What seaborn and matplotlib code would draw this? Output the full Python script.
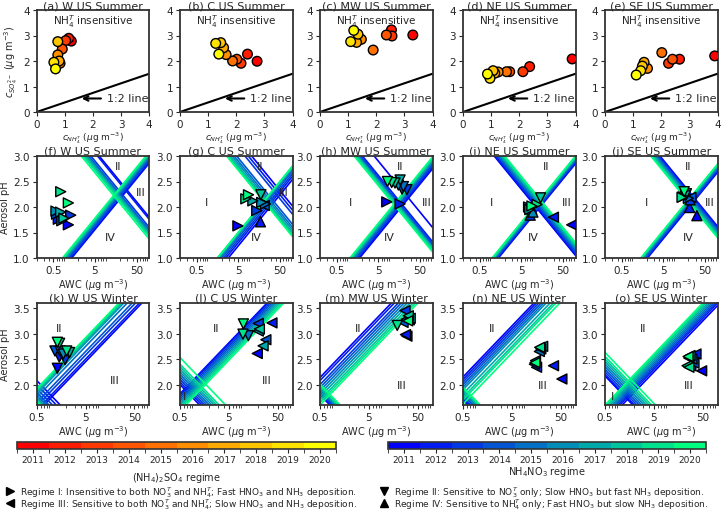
import numpy as np
import pandas as pd
import matplotlib as mpl
import matplotlib.pyplot as plt
from matplotlib.lines import Line2D
from matplotlib.ticker import FixedLocator, LogLocator, NullFormatter
import seaborn as sns

sns.set_style('ticks')
plt.rcParams['font.family'] = ['DejaVu Sans']
plt.rcParams['axes.edgecolor'] = '#333333'
plt.rcParams['axes.linewidth'] = 1.3

years = [2011, 2012, 2013, 2014, 2015, 2016, 2017, 2018, 2019, 2020]
regions = ['W', 'C', 'MW', 'NE', 'SE']
ratio_12 = 0.375

# summer: total ammonium vs sulfate (ug m-3)
nh4_W = [1.23, 1.14, 1.03, 0.91, 0.83, 0.75, 0.80, 0.75, 0.61, 0.67]
so4_W = [2.78, 2.89, 2.80, 2.47, 1.91, 2.24, 2.00, 2.76, 1.95, 1.69]
nh4_C = [2.74, 2.40, 2.17, 2.02, 1.87, 1.64, 1.55, 1.45, 1.27, 1.38]
so4_C = [1.99, 2.27, 1.91, 2.07, 2.00, 2.25, 2.52, 2.72, 2.69, 2.27]
nh4_MW = [3.30, 2.54, 2.56, 2.36, 1.89, 1.47, 1.30, 1.35, 1.09, 1.20]
so4_MW = [3.02, 3.22, 2.98, 3.02, 2.43, 2.85, 2.73, 3.05, 2.76, 3.20]
nh4_NE = [3.88, 2.37, 2.13, 1.66, 1.55, 1.25, 1.13, 1.07, 0.96, 0.87]
so4_NE = [2.08, 1.78, 1.58, 1.58, 1.58, 1.57, 1.52, 1.62, 1.32, 1.49]
nh4_SE = [3.90, 2.65, 2.26, 2.40, 2.02, 1.51, 1.39, 1.33, 1.27, 1.11]
so4_SE = [2.20, 2.07, 1.91, 2.07, 2.33, 1.71, 1.95, 1.80, 1.62, 1.45]

# summer: AWC (ug m-3), pH, regime, NH3 boundary (rising) and HNO3 boundary (falling) intercepts
awc_sW = [1.15, 0.66, 1.31, 0.60, 0.80, 0.58, 0.75, 0.90, 0.755, 1.15]
ph_sW = [1.65, 1.76, 1.84, 1.86, 1.73, 1.92, 1.90, 1.78, 2.30, 2.08]
reg_sW = ['I', 'I', 'I', 'I', 'I', 'I', 'I', 'I', 'I', 'I']
up_sW = [0.86, 0.88, 0.92, 0.95, 0.98, 1.00, 1.02, 1.04, 1.06, 1.08]
dn_sW = [3.80, 3.76, 3.60, 3.55, 3.52, 3.50, 3.48, 3.45, 3.42, 3.37]

awc_sC = [4.9, 17.0, 13.9, 21.0, 22.5, 18.2, 11.2, 17.4, 7.6, 8.8]
ph_sC = [1.63, 1.71, 1.93, 2.03, 2.06, 2.09, 2.12, 2.24, 2.16, 2.24]
reg_sC = ['I', 'IV', 'I', 'III', 'I', 'I', 'I', 'II', 'I', 'I']
up_sC = [0.54, 0.60, 0.65, 0.70, 0.74, 0.76, 0.78, 0.79, 0.80, 0.80]
dn_sC = [4.02, 3.94, 3.86, 3.66, 3.60, 3.55, 3.50, 3.47, 3.44, 3.42]

awc_sMW = [8.0, 16.7, 24.3, 18.6, 20.0, 15.2, 16.7, 12.6, 10.5, 8.3]
ph_sMW = [2.10, 2.06, 2.34, 2.35, 2.40, 2.43, 2.53, 2.47, 2.48, 2.50]
reg_sMW = ['I', 'I', 'II', 'II', 'II', 'II', 'II', 'II', 'II', 'II']
up_sMW = [0.75, 0.78, 0.82, 0.85, 0.88, 0.90, 0.92, 0.94, 0.96, 0.98]
dn_sMW = [3.60, 3.32, 3.28, 3.25, 3.22, 3.20, 3.20, 3.18, 3.15, 3.12]

awc_sNE = [81.0, 29.5, 8.2, 8.9, 7.5, 9.5, 8.0, 14.5, 12.0, 9.0]
ph_sNE = [1.65, 1.80, 1.84, 1.96, 2.00, 1.90, 1.95, 2.18, 2.05, 2.02]
reg_sNE = ['III', 'III', 'IV', 'IV', 'I', 'IV', 'I', 'II', 'I', 'I']
up_sNE = [0.85, 0.87, 0.89, 0.91, 0.93, 0.95, 0.96, 0.97, 0.99, 1.00]
dn_sNE = [3.05, 3.08, 3.11, 3.14, 3.17, 3.20, 3.22, 3.25, 3.27, 3.30]

awc_sSE = [32.0, 21.4, 22.0, 23.0, 20.0, 18.0, 17.0, 15.0, 14.1, 15.9]
ph_sSE = [1.83, 1.99, 2.14, 2.19, 2.17, 2.26, 2.22, 2.20, 2.19, 2.30]
reg_sSE = ['IV', 'IV', 'IV', 'III', 'I', 'II', 'II', 'I', 'I', 'II']
up_sSE = [0.68, 0.70, 0.72, 0.75, 0.77, 0.79, 0.80, 0.82, 0.83, 0.84]
dn_sSE = [3.62, 3.60, 3.57, 3.55, 3.52, 3.50, 3.47, 3.45, 3.42, 3.40]

# winter
awc_wW = [1.32, 1.45, 1.90, 1.18, 1.50, 1.75, 2.35, 1.47, 2.05, 1.32]
ph_wW = [2.32, 2.54, 2.49, 2.66, 2.66, 2.60, 2.63, 2.81, 2.66, 2.83]
reg_wW = ['II', 'II', 'II', 'II', 'II', 'II', 'II', 'II', 'II', 'II']
up_wW = [1.75, 1.80, 1.88, 1.95, 2.05, 2.12, 2.15, 2.18, 2.20, 2.22]
dn_wW = [1.78, 1.70, 1.62, 1.55, 1.50, 1.45, 1.42, 1.40, 1.38, 1.35]

awc_wC = [19.0, 38.0, 20.0, 28.5, 12.5, 20.0, 25.0, 21.0, 9.7, 9.9]
ph_wC = [2.61, 3.21, 3.20, 2.88, 2.96, 3.05, 2.76, 3.09, 2.99, 3.19]
reg_wC = ['III', 'III', 'III', 'III', 'II', 'III', 'III', 'III', 'II', 'II']
up_wC = [2.12, 2.10, 2.06, 2.02, 1.98, 1.94, 1.90, 1.86, 1.82, 1.78]
dn_wC = [1.70, 1.75, 1.80, 1.85, 1.90, 1.95, 2.00, 2.05, 2.10, 2.23]

awc_wMW = [30.0, 28.0, 27.4, 25.0, 29.0, 33.5, 35.0, 32.0, 19.0, 31.0]
ph_wMW = [2.95, 2.98, 3.45, 3.22, 3.28, 3.27, 3.30, 3.35, 3.16, 3.25]
reg_wMW = ['III', 'III', 'III', 'III', 'III', 'III', 'III', 'III', 'II', 'III']
up_wMW = [2.44, 2.38, 2.30, 2.24, 2.18, 2.12, 2.06, 2.00, 1.95, 1.90]
dn_wMW = [1.50, 1.52, 1.55, 1.57, 1.60, 1.62, 1.64, 1.66, 1.68, 1.71]

awc_wNE = [52.6, 35.5, 16.0, 14.4, 18.2, 15.2, 21.3, 19.5, 18.5, 14.8]
ph_wNE = [2.11, 2.37, 2.34, 2.40, 2.65, 2.47, 2.75, 2.70, 2.73, 2.43]
reg_wNE = ['III', 'III', 'III', 'III', 'III', 'III', 'III', 'III', 'III', 'III']
up_wNE = [2.45, 2.40, 2.35, 2.30, 2.25, 2.20, 2.12, 2.05, 2.00, 1.92]
dn_wNE = [1.40, 1.43, 1.46, 1.50, 1.53, 1.56, 1.59, 1.61, 1.63, 1.65]

awc_wSE = [47.4, 36.3, 28.5, 33.0, 30.0, 26.0, 27.4, 23.8, 26.0, 25.0]
ph_wSE = [2.27, 2.60, 2.37, 2.42, 2.50, 2.52, 2.57, 2.37, 2.34, 2.55]
reg_wSE = ['III', 'III', 'III', 'III', 'III', 'III', 'III', 'III', 'III', 'III']
up_wSE = [1.55, 1.60, 1.64, 1.68, 1.72, 1.76, 1.80, 1.84, 1.87, 1.90]
dn_wSE = [1.87, 1.90, 1.95, 2.00, 2.05, 2.10, 2.15, 2.20, 2.25, 2.33]

top_data = {'W': (nh4_W, so4_W), 'C': (nh4_C, so4_C), 'MW': (nh4_MW, so4_MW),
            'NE': (nh4_NE, so4_NE), 'SE': (nh4_SE, so4_SE)}
summer = {'W': (awc_sW, ph_sW, reg_sW, up_sW, dn_sW), 'C': (awc_sC, ph_sC, reg_sC, up_sC, dn_sC),
          'MW': (awc_sMW, ph_sMW, reg_sMW, up_sMW, dn_sMW), 'NE': (awc_sNE, ph_sNE, reg_sNE, up_sNE, dn_sNE),
          'SE': (awc_sSE, ph_sSE, reg_sSE, up_sSE, dn_sSE)}
winter = {'W': (awc_wW, ph_wW, reg_wW, up_wW, dn_wW), 'C': (awc_wC, ph_wC, reg_wC, up_wC, dn_wC),
          'MW': (awc_wMW, ph_wMW, reg_wMW, up_wMW, dn_wMW), 'NE': (awc_wNE, ph_wNE, reg_wNE, up_wNE, dn_wNE),
          'SE': (awc_wSE, ph_wSE, reg_wSE, up_wSE, dn_wSE)}

# where the regime names sit in each panel
lab_summer = {
    'W': [('II', 18, 2.81), ('III', 62, 2.29), ('IV', 11.6, 1.41)],
    'C': [('I', 0.88, 2.09), ('II', 16.5, 2.81), ('III', 63, 2.3), ('IV', 13.8, 1.41)],
    'MW': [('I', 1.05, 2.1), ('II', 16.7, 2.81), ('III', 73, 2.1), ('IV', 9.3, 1.41)],
    'NE': [('I', 0.98, 2.1), ('II', 20, 2.8), ('III', 60, 2.1), ('IV', 9.8, 1.41)],
    'SE': [('I', 2.0, 2.1), ('II', 20, 2.8), ('III', 66, 2.1), ('IV', 20, 1.41)],
}
lab_winter = {
    'W': [('II', 1.45, 3.1), ('III', 20, 2.09)],
    'C': [('I', 0.63, 1.78), ('II', 2.8, 3.1), ('III', 30, 2.09)],
    'MW': [('II', 3.0, 3.1), ('III', 23, 1.99)],
    'NE': [('II', 2.0, 3.1), ('III', 21.5, 1.99)],
    'SE': [('I', 0.72, 1.78), ('II', 3.0, 3.1), ('III', 26, 1.99)],
}

bounds = np.arange(2010.5, 2021.0, 1.0)
norm = mpl.colors.BoundaryNorm(bounds, 10)
cmap_s = mpl.colormaps['autumn'].resampled(10)
cmap_w = mpl.colormaps['winter'].resampled(10)
pal_s = {y: cmap_s(norm(y)) for y in years}
pal_w = {y: cmap_w(norm(y)) for y in years}
markers = {'I': '>', 'II': 'v', 'III': '<', 'IV': '^'}

fig = plt.figure(figsize=(7.22, 5.10), dpi=100)
FW, FH = 722, 510
lefts = [36.7, 180, 320, 463, 605]
tops = [11, 157, 304]
aw, ah = 112.5, 102


def add_ax(col, row):
    return fig.add_axes([lefts[col] / FW, 1 - (tops[row] + ah) / FH, aw / FW, ah / FH])


letters = 'abcdefghijklmno'
TFS = 8

# row 1
for i, reg in enumerate(regions):
    ax = add_ax(i, 0)
    x, y = top_data[reg]
    df = pd.DataFrame({'x': x, 'y': y, 'year': years})
    ax.axline((0, 0), slope=ratio_12, color='k', lw=1.5, zorder=1)
    sns.scatterplot(data=df, x='x', y='y', hue='year', palette=pal_s, s=48,
                    edgecolor='k', linewidth=1, legend=False, ax=ax, zorder=3)
    ax.annotate('1:2 line', xy=(1.5, 0.53), xytext=(2.5, 0.53), va='center', ha='left',
                fontsize=8, arrowprops=dict(arrowstyle='->', color='k', lw=1.5))
    ax.text(2, 3.6, 'NH$_4^T$ insensitive', ha='center', va='center', fontsize=7.5)
    ax.set_xlim(0, 4)
    ax.set_ylim(0, 4)
    ax.set_xticks([0, 1, 2, 3, 4])
    ax.set_yticks([0, 1, 2, 3, 4])
    ax.tick_params(labelsize=7.5, length=3, pad=2)
    ax.set_title(f'({letters[i]}) {reg} US Summer', fontsize=TFS, pad=1)
    ax.set_xlabel(r'$c_{NH_4^T}$ ($\mu$g m$^{-3}$)', fontsize=6.5, labelpad=0)
    if i == 0:
        ax.set_ylabel(r'$c_{SO_4^{2-}}$ ($\mu$g m$^{-3}$)', fontsize=7, labelpad=2)
    else:
        ax.set_ylabel('')


def ph_panel(ax, vals, labs, xlim, ylim, yticks):
    awc, ph, rg, up, dn = vals
    for k, yr in enumerate(years):
        c = pal_w[yr]
        ax.axline((1, up[k]), (10, up[k] + 1), color=c, lw=1.2, zorder=1)
        ax.axline((1, dn[k]), (10, dn[k] - 1), color=c, lw=1.2, zorder=1)
    df = pd.DataFrame({'awc': awc, 'ph': ph, 'regime': rg, 'year': years})
    sns.scatterplot(data=df, x='awc', y='ph', hue='year', palette=pal_w, style='regime',
                    markers=markers, s=52, edgecolor='k', linewidth=1, legend=False,
                    ax=ax, zorder=3)
    for t, lx, ly in labs:
        ax.text(lx, ly, t, ha='center', va='center', fontsize=8)
    ax.set_xscale('log')
    ax.set_xlim(*xlim)
    ax.set_ylim(*ylim)
    ax.set_xticks([0.5, 5, 50])
    ax.set_xticklabels(['0.5', '5', '50'])
    ax.xaxis.set_minor_locator(LogLocator(base=10, subs=np.arange(2, 10)))
    ax.xaxis.set_minor_formatter(NullFormatter())
    ax.set_yticks(yticks)
    ax.tick_params(labelsize=7.5, length=3, pad=2)
    ax.tick_params(which='minor', length=2)
    ax.set_xlabel(r'AWC ($\mu$g m$^{-3}$)', fontsize=7, labelpad=1)


for i, reg in enumerate(regions):
    ax = add_ax(i, 1)
    ph_panel(ax, summer[reg], lab_summer[reg], (0.2, 100), (1.0, 3.0), [1.0, 1.5, 2.0, 2.5, 3.0])
    ax.set_title(f'({letters[5 + i]}) {reg} US Summer', fontsize=TFS, pad=1)
    ax.set_ylabel('Aerosol pH' if i == 0 else '', fontsize=7, labelpad=2)

for i, reg in enumerate(regions):
    ax = add_ax(i, 2)
    ph_panel(ax, winter[reg], lab_winter[reg], (0.5, 100), (1.6, 3.6), [2.0, 2.5, 3.0, 3.5])
    ax.set_title(f'({letters[10 + i]}) {reg} US Winter', fontsize=TFS, pad=1)
    ax.set_ylabel('Aerosol pH' if i == 0 else '', fontsize=7, labelpad=2)

# colorbars
for cmap, x0, x1 in [(cmap_s, 17, 336), (cmap_w, 388, 706)]:
    cax = fig.add_axes([x0 / FW, 1 - 450 / FH, (x1 - x0) / FW, 7 / FH])
    sm = mpl.cm.ScalarMappable(norm=norm, cmap=cmap)
    cb = fig.colorbar(sm, cax=cax, orientation='horizontal', ticks=years)
    cb.ax.xaxis.set_minor_locator(FixedLocator(bounds))
    cb.ax.tick_params(labelsize=6.5, length=3, pad=1.5)
    cb.ax.tick_params(which='minor', length=3)
    cb.outline.set_linewidth(1.2)

fig.text(176 / FW, 1 - 478 / FH, '(NH$_4$)$_2$SO$_4$ regime', ha='center', va='center', fontsize=7)
fig.text(547 / FW, 1 - 472 / FH, 'NH$_4$NO$_3$ regime', ha='center', va='center', fontsize=7)

handles = [Line2D([], [], ls='', marker=markers[r], color='k', markersize=6) for r in ['I', 'III', 'II', 'IV']]
labels = [
    'Regime I: Insensitive to both NO$_3^T$ and NH$_4^T$; Fast HNO$_3$ and NH$_3$ deposition.',
    'Regime III: Sensitive to both NO$_3^T$ and NH$_4^T$; Slow HNO$_3$ and NH$_3$ deposition.',
    'Regime II: Sensitive to NO$_3^T$ only; Slow HNO$_3$ but fast NH$_3$ deposition.',
    'Regime IV: Sensitive to NH$_4^T$ only; Fast HNO$_3$ but slow NH$_3$ deposition.',
]
fig.legend(handles, labels, ncol=2, loc='lower left', bbox_to_anchor=(0.0, -0.014),
           frameon=False, fontsize=6.5, handlelength=1, handletextpad=0.6,
           columnspacing=2.5, labelspacing=-0.3, borderaxespad=0.2)

fig.savefig('out.png', dpi=100)
